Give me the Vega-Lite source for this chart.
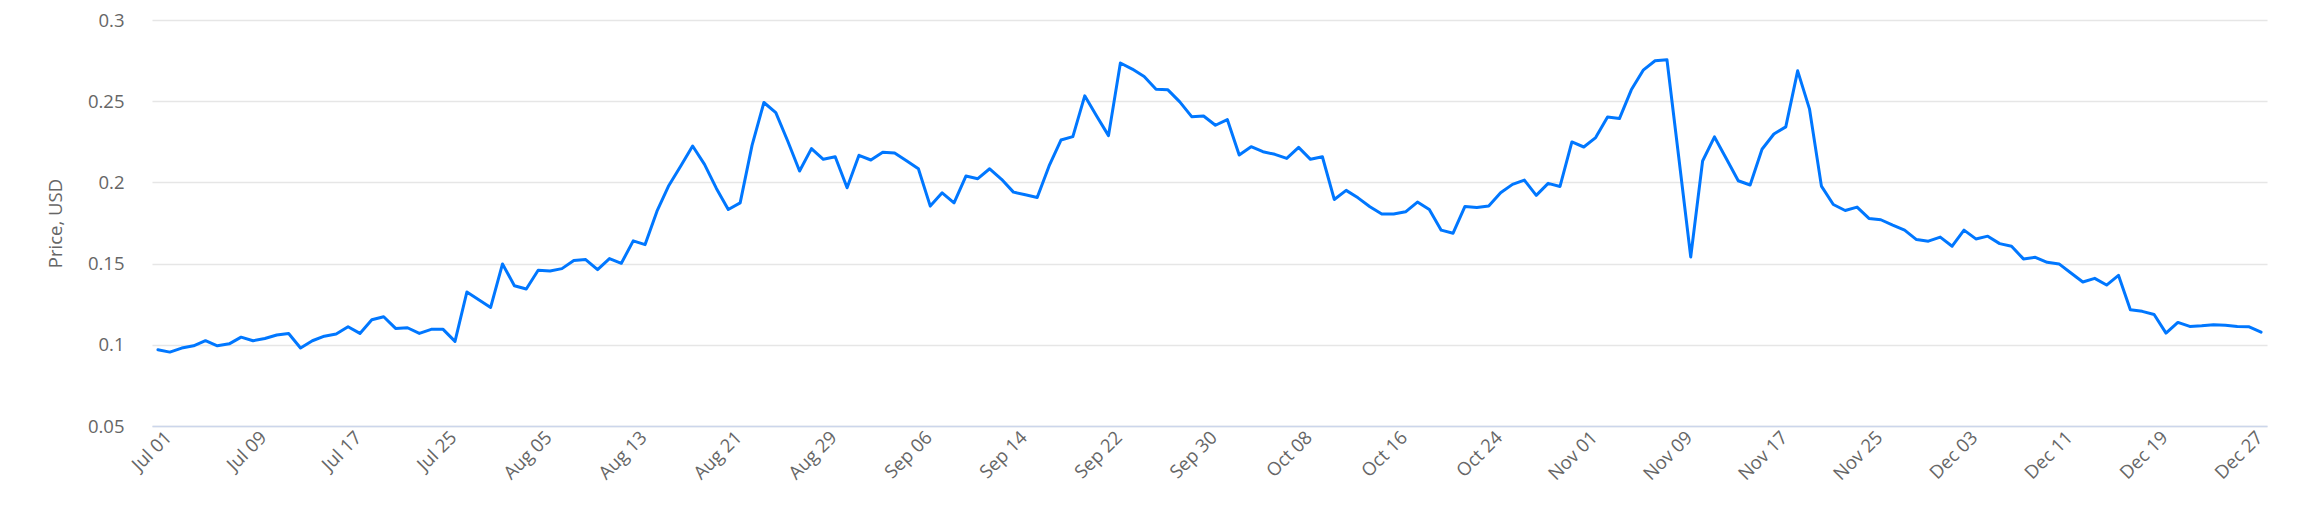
{
  "$schema": "https://vega.github.io/schema/vega-lite/v6.json",
  "width": 2115,
  "height": 406,
  "autosize": {"type": "none"},
  "padding": {"left": 152, "top": 20, "right": 32, "bottom": 82},
  "data": {
    "values": [
      {"day": "Jul 01", "price": 0.0969}, {"day": "Jul 02", "price": 0.0955}, {"day": "Jul 03", "price": 0.098}, {"day": "Jul 04", "price": 0.0994},
      {"day": "Jul 05", "price": 0.1025}, {"day": "Jul 06", "price": 0.0994}, {"day": "Jul 07", "price": 0.1006}, {"day": "Jul 08", "price": 0.1047},
      {"day": "Jul 09", "price": 0.1025}, {"day": "Jul 10", "price": 0.1039}, {"day": "Jul 11", "price": 0.106}, {"day": "Jul 12", "price": 0.107},
      {"day": "Jul 13", "price": 0.098}, {"day": "Jul 14", "price": 0.1025}, {"day": "Jul 15", "price": 0.1053}, {"day": "Jul 16", "price": 0.1066},
      {"day": "Jul 17", "price": 0.1111}, {"day": "Jul 18", "price": 0.107}, {"day": "Jul 19", "price": 0.1154}, {"day": "Jul 20", "price": 0.1173},
      {"day": "Jul 21", "price": 0.1101}, {"day": "Jul 22", "price": 0.1105}, {"day": "Jul 23", "price": 0.107}, {"day": "Jul 24", "price": 0.1095},
      {"day": "Jul 25", "price": 0.1095}, {"day": "Jul 26", "price": 0.1021}, {"day": "Jul 27", "price": 0.1325}, {"day": "Jul 28", "price": 0.1278},
      {"day": "Aug 01", "price": 0.123}, {"day": "Aug 02", "price": 0.1498}, {"day": "Aug 03", "price": 0.1364}, {"day": "Aug 04", "price": 0.1344},
      {"day": "Aug 05", "price": 0.1459}, {"day": "Aug 06", "price": 0.1455}, {"day": "Aug 07", "price": 0.1469}, {"day": "Aug 08", "price": 0.1519},
      {"day": "Aug 09", "price": 0.1525}, {"day": "Aug 10", "price": 0.1463}, {"day": "Aug 11", "price": 0.1531}, {"day": "Aug 12", "price": 0.1502},
      {"day": "Aug 13", "price": 0.164}, {"day": "Aug 14", "price": 0.1617}, {"day": "Aug 15", "price": 0.1823}, {"day": "Aug 16", "price": 0.1981},
      {"day": "Aug 17", "price": 0.2101}, {"day": "Aug 18", "price": 0.2224}, {"day": "Aug 19", "price": 0.2111}, {"day": "Aug 20", "price": 0.1963},
      {"day": "Aug 21", "price": 0.1833}, {"day": "Aug 22", "price": 0.1874}, {"day": "Aug 23", "price": 0.2228}, {"day": "Aug 24", "price": 0.2492},
      {"day": "Aug 25", "price": 0.243}, {"day": "Aug 26", "price": 0.2255}, {"day": "Aug 27", "price": 0.207}, {"day": "Aug 28", "price": 0.2208},
      {"day": "Aug 29", "price": 0.2142}, {"day": "Aug 30", "price": 0.2158}, {"day": "Aug 31", "price": 0.1967}, {"day": "Sep 01", "price": 0.2167},
      {"day": "Sep 02", "price": 0.2138}, {"day": "Sep 03", "price": 0.2185}, {"day": "Sep 04", "price": 0.2181}, {"day": "Sep 05", "price": 0.2134},
      {"day": "Sep 06", "price": 0.2084}, {"day": "Sep 07", "price": 0.1854}, {"day": "Sep 08", "price": 0.1936}, {"day": "Sep 09", "price": 0.1874},
      {"day": "Sep 10", "price": 0.2039}, {"day": "Sep 11", "price": 0.2023}, {"day": "Sep 12", "price": 0.2084}, {"day": "Sep 13", "price": 0.2019},
      {"day": "Sep 14", "price": 0.194}, {"day": "Sep 15", "price": 0.1924}, {"day": "Sep 16", "price": 0.1907}, {"day": "Sep 17", "price": 0.2101},
      {"day": "Sep 18", "price": 0.2261}, {"day": "Sep 19", "price": 0.2282}, {"day": "Sep 20", "price": 0.2533}, {"day": "Sep 21", "price": 0.2409},
      {"day": "Sep 22", "price": 0.2288}, {"day": "Sep 23", "price": 0.2735}, {"day": "Sep 24", "price": 0.2698}, {"day": "Sep 25", "price": 0.2652},
      {"day": "Sep 26", "price": 0.2574}, {"day": "Sep 27", "price": 0.257}, {"day": "Sep 28", "price": 0.2496}, {"day": "Sep 29", "price": 0.2405},
      {"day": "Sep 30", "price": 0.2409}, {"day": "Oct 01", "price": 0.2352}, {"day": "Oct 02", "price": 0.2387}, {"day": "Oct 03", "price": 0.2169},
      {"day": "Oct 04", "price": 0.222}, {"day": "Oct 05", "price": 0.2189}, {"day": "Oct 06", "price": 0.2173}, {"day": "Oct 07", "price": 0.2148},
      {"day": "Oct 08", "price": 0.2216}, {"day": "Oct 09", "price": 0.2142}, {"day": "Oct 10", "price": 0.2158}, {"day": "Oct 11", "price": 0.1895},
      {"day": "Oct 12", "price": 0.1951}, {"day": "Oct 13", "price": 0.1905}, {"day": "Oct 14", "price": 0.185}, {"day": "Oct 15", "price": 0.1805},
      {"day": "Oct 16", "price": 0.1805}, {"day": "Oct 17", "price": 0.1819}, {"day": "Oct 18", "price": 0.1879}, {"day": "Oct 19", "price": 0.1833},
      {"day": "Oct 20", "price": 0.1706}, {"day": "Oct 21", "price": 0.1687}, {"day": "Oct 22", "price": 0.1852}, {"day": "Oct 23", "price": 0.1846},
      {"day": "Oct 24", "price": 0.1854}, {"day": "Oct 25", "price": 0.1936}, {"day": "Oct 26", "price": 0.1988}, {"day": "Oct 27", "price": 0.2014},
      {"day": "Oct 28", "price": 0.192}, {"day": "Oct 29", "price": 0.1994}, {"day": "Oct 30", "price": 0.1975}, {"day": "Oct 31", "price": 0.2249},
      {"day": "Nov 01", "price": 0.2218}, {"day": "Nov 02", "price": 0.2276}, {"day": "Nov 03", "price": 0.2403}, {"day": "Nov 04", "price": 0.2393},
      {"day": "Nov 05", "price": 0.257}, {"day": "Nov 06", "price": 0.2691}, {"day": "Nov 07", "price": 0.2749}, {"day": "Nov 08", "price": 0.2755},
      {"day": "Nov 09", "price": 0.215}, {"day": "Nov 10", "price": 0.1541}, {"day": "Nov 11", "price": 0.2132}, {"day": "Nov 12", "price": 0.228},
      {"day": "Nov 13", "price": 0.2146}, {"day": "Nov 14", "price": 0.201}, {"day": "Nov 15", "price": 0.1984}, {"day": "Nov 16", "price": 0.2204},
      {"day": "Nov 17", "price": 0.2298}, {"day": "Nov 18", "price": 0.2342}, {"day": "Nov 19", "price": 0.2687}, {"day": "Nov 20", "price": 0.2451},
      {"day": "Nov 21", "price": 0.1977}, {"day": "Nov 22", "price": 0.1864}, {"day": "Nov 23", "price": 0.1827}, {"day": "Nov 24", "price": 0.1848},
      {"day": "Nov 25", "price": 0.1778}, {"day": "Nov 26", "price": 0.177}, {"day": "Nov 27", "price": 0.1737}, {"day": "Nov 28", "price": 0.1706},
      {"day": "Nov 29", "price": 0.1648}, {"day": "Nov 30", "price": 0.1638}, {"day": "Dec 01", "price": 0.1663}, {"day": "Dec 02", "price": 0.1607},
      {"day": "Dec 03", "price": 0.1706}, {"day": "Dec 04", "price": 0.1652}, {"day": "Dec 05", "price": 0.1669}, {"day": "Dec 06", "price": 0.1623},
      {"day": "Dec 07", "price": 0.1607}, {"day": "Dec 08", "price": 0.1529}, {"day": "Dec 09", "price": 0.1539}, {"day": "Dec 10", "price": 0.1508},
      {"day": "Dec 11", "price": 0.1498}, {"day": "Dec 12", "price": 0.1442}, {"day": "Dec 13", "price": 0.1387}, {"day": "Dec 14", "price": 0.1409},
      {"day": "Dec 15", "price": 0.1368}, {"day": "Dec 16", "price": 0.1428}, {"day": "Dec 17", "price": 0.1216}, {"day": "Dec 18", "price": 0.1206},
      {"day": "Dec 19", "price": 0.1187}, {"day": "Dec 20", "price": 0.1072}, {"day": "Dec 21", "price": 0.1138}, {"day": "Dec 22", "price": 0.1113},
      {"day": "Dec 23", "price": 0.1117}, {"day": "Dec 24", "price": 0.1123}, {"day": "Dec 25", "price": 0.1121}, {"day": "Dec 26", "price": 0.1113},
      {"day": "Dec 27", "price": 0.1111}, {"day": "Dec 28", "price": 0.1078}
    ]
  },
  "mark": {"type": "line", "color": "#0077ff", "strokeWidth": 3, "strokeJoin": "round", "strokeCap": "round"},
  "encoding": {
    "x": {
      "field": "day",
      "type": "ordinal",
      "sort": null,
      "scale": {"type": "point", "padding": 0.5},
      "title": null,
      "axis": {
        "values": ["Jul 01", "Jul 09", "Jul 17", "Jul 25", "Aug 05", "Aug 13", "Aug 21", "Aug 29", "Sep 06", "Sep 14", "Sep 22", "Sep 30", "Oct 08", "Oct 16", "Oct 24", "Nov 01", "Nov 09", "Nov 17", "Nov 25", "Dec 03", "Dec 11", "Dec 19", "Dec 27"],
        "labelAngle": -45,
        "labelAlign": "right",
        "labelBaseline": "middle",
        "labelOffset": 10,
        "labelPadding": 8,
        "ticks": false,
        "grid": false,
        "domainColor": "#ccd6eb",
        "domainWidth": 1.5
      }
    },
    "y": {
      "field": "price",
      "type": "quantitative",
      "scale": {"domain": [0.05, 0.3], "nice": false, "zero": false},
      "title": "Price, USD",
      "axis": {
        "values": [0.05, 0.1, 0.15, 0.2, 0.25, 0.3],
        "format": ".2~f",
        "domain": false,
        "ticks": false,
        "grid": true,
        "gridColor": "#e6e6e6",
        "gridWidth": 1.3,
        "labelPadding": 28,
        "titlePadding": 22
      }
    }
  },
  "config": {
    "view": {"stroke": null},
    "axis": {
      "labelFont": "Open Sans",
      "labelFontSize": 18.5,
      "labelColor": "#666666",
      "titleFont": "Open Sans",
      "titleFontSize": 18.5,
      "titleFontWeight": "normal",
      "titleColor": "#666666"
    }
  }
}
